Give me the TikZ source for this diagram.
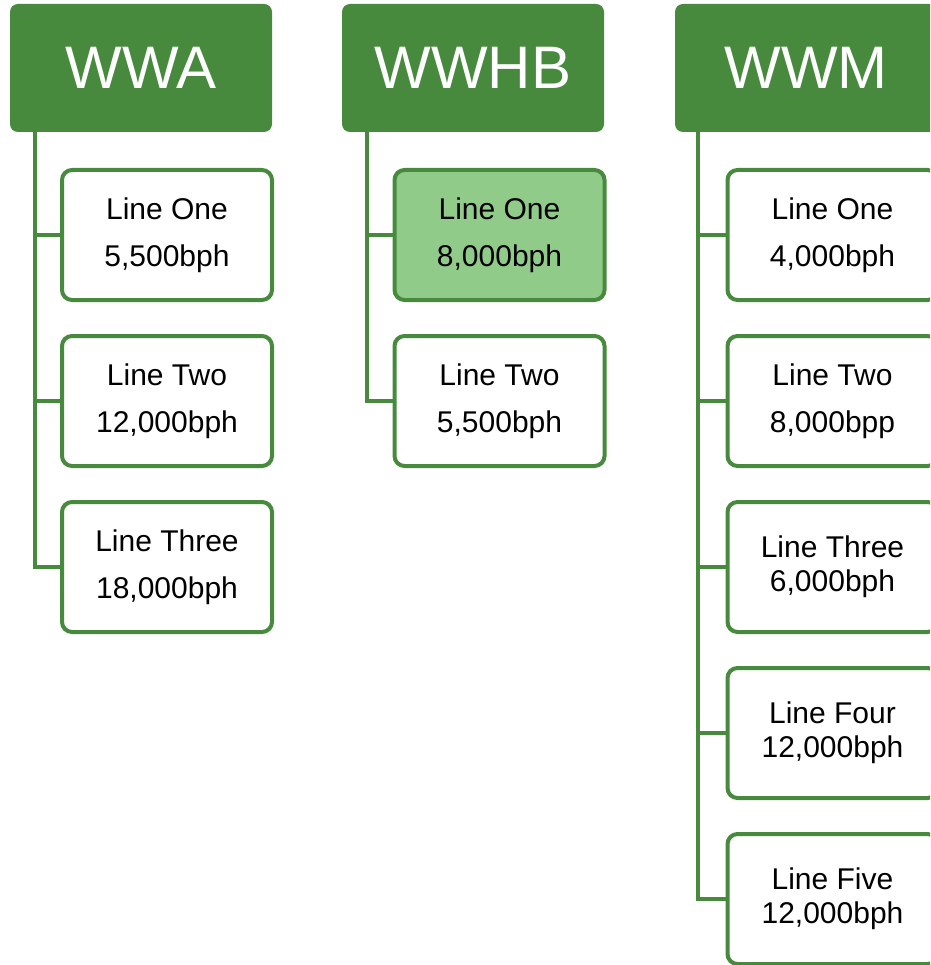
\documentclass[tikz,border=0pt]{standalone}
\usepackage{fontspec}
\setmainfont{Liberation Sans}
\definecolor{grn}{RGB}{71,138,62}
\definecolor{lgrn}{RGB}{144,203,137}
\begin{document}
\begin{tikzpicture}[x=1pt,y=-1pt,
  head/.style={rectangle, rounded corners=8pt, fill=grn, text=white, minimum width=262pt, minimum height=128pt, inner sep=0pt, font=\fontsize{60}{60}\selectfont},
  item/.style={rectangle, rounded corners=10pt, draw=grn, line width=4pt, fill=white, minimum width=210pt, minimum height=130pt, inner sep=0pt, align=center, font=\fontsize{30}{47}\selectfont},
  tight/.style={font=\fontsize{30}{34}\selectfont},
  hl/.style={fill=lgrn},
  conn/.style={draw=grn, line width=4pt}]
\useasboundingbox (0,0) rectangle (930,965);
\clip (0,0) rectangle (930,965);
% headers
\node[head] (hA) at (141,68) {WWA};
\node[head] (hB) at (473,68) {WWHB};
\node[head] (hM) at (806,68) {WWM};
% WWA children
\node[item] (a1) at (167,235) {Line One\\5,500bph};
\node[item] (a2) at (167,401) {Line Two\\12,000bph};
\node[item] (a3) at (167,567) {Line Three\\18,000bph};
% WWHB children
\node[item,hl] (b1) at (499.5,235) {Line One\\8,000bph};
\node[item] (b2) at (499.5,401) {Line Two\\5,500bph};
% WWM children
\node[item] (m1) at (832.5,235) {Line One\\4,000bph};
\node[item] (m2) at (832.5,401) {Line Two\\8,000bpp};
\node[item,tight] (m3) at (832.5,567) {Line Three\\6,000bph};
\node[item,tight] (m4) at (832.5,733) {Line Four\\12,000bph};
\node[item,tight] (m5) at (832.5,899) {Line Five\\12,000bph};
% connectors
\coordinate (tA) at ([xshift=25pt]hA.south west);
\coordinate (tB) at ([xshift=25pt]hB.south west);
\coordinate (tM) at ([xshift=23pt]hM.south west);
\foreach \c in {a1,a2,a3} \draw[conn] (tA) |- (\c.west);
\foreach \c in {b1,b2} \draw[conn] (tB) |- (\c.west);
\foreach \c in {m1,m2,m3,m4,m5} \draw[conn] (tM) |- (\c.west);
\end{tikzpicture}
\end{document}
